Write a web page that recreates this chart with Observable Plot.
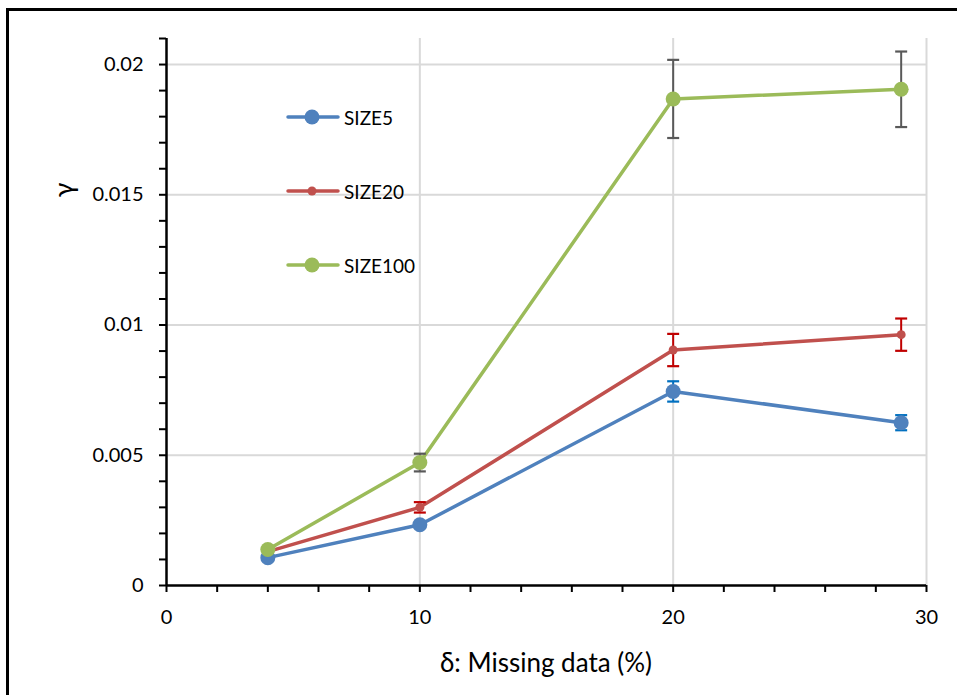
<!DOCTYPE html>
<html>
<head>
<meta charset="utf-8">
<script src="https://cdn.jsdelivr.net/npm/d3@7"></script>
<script src="https://cdn.jsdelivr.net/npm/@observablehq/plot@0.6"></script>
<style>
  html, body { margin: 0; padding: 0; background: #fff; overflow: hidden; }
  #wrap { position: relative; width: 957px; height: 695px; font-family: Lato, "Open Sans", sans-serif; }
  #chart > svg { position: absolute; left: 0; top: 0; }
  #border { position: absolute; left: 6px; top: 8px; width: 1000px; height: 1000px; border-top: 3px solid #000; border-left: 3px solid #000; box-sizing: border-box; pointer-events: none; }
  .lbl { position: absolute; color: #000; white-space: nowrap; }
  #xlabel { left: 546px; top: 662px; transform: translate(-50%, -50%); font-size: 26px; }
  #ylabel { left: 62px; top: 190px; transform: translate(-50%, -50%) rotate(-90deg); font-size: 27px; }
  .leg { position: absolute; left: 286px; height: 20px; display: flex; align-items: center; font-size: 19px; transform: translateY(-50%); color: #000; }
  .leg svg { display: block; margin-right: 4px; }
</style>
</head>
<body>
<div id="wrap">
  <div id="chart"></div>
  <div id="border"></div>
  <div class="lbl" id="xlabel"></div>
  <div class="lbl" id="ylabel"></div>
  <div id="legend"></div>
</div>
<script>
// ---- data ----
const xValues = [4, 10, 20, 29];
const seriesNames = ["SIZE5", "SIZE20", "SIZE100"];
const size5 = [0.00107, 0.00233, 0.00745, 0.00625];
const size5Err = [0, 0, 0.00039, 0.00029];
const size20 = [0.0013, 0.0030, 0.00904, 0.00963];
const size20Err = [0, 0.0002, 0.00062, 0.00062];
const size100 = [0.00138, 0.00472, 0.01868, 0.01905];
const size100Err = [0, 0.00034, 0.0015, 0.00145];
const xTicks = [0, 2, 4, 6, 8, 10, 12, 14, 16, 18, 20, 22, 24, 26, 28, 30];
const xTickLabels = ["0", "", "", "", "", "10", "", "", "", "", "20", "", "", "", "", "30"];
const yTicks = [0, 0.001, 0.002, 0.003, 0.004, 0.005, 0.006, 0.007, 0.008, 0.009, 0.01,
                0.011, 0.012, 0.013, 0.014, 0.015, 0.016, 0.017, 0.018, 0.019, 0.02, 0.021];
const yTickLabels = ["0", "", "", "", "", "0.005", "", "", "", "", "0.01",
                     "", "", "", "", "0.015", "", "", "", "", "0.02", ""];
const xGrid = [10, 20, 30];
const yGrid = [0.005, 0.01, 0.015, 0.02];
const xTitle = "δ: Missing data (%)";
const yTitle = "γ";

// ---- styles ----
const styles = {
  SIZE5:   {line: "#4F81BD", err: "#0070C0", r: 7.5},
  SIZE20:  {line: "#C0504D", err: "#C00000", r: 4.5},
  SIZE100: {line: "#9BBB59", err: "#595959", r: 7.5}
};

const values = {SIZE5: size5, SIZE20: size20, SIZE100: size100};
const errs = {SIZE5: size5Err, SIZE20: size20Err, SIZE100: size100Err};
const rows = {};
for (const s of seriesNames) {
  rows[s] = xValues.map((x, i) => ({series: s, x, y: values[s][i], e: errs[s][i]}));
}

const capSymbol = {
  draw(context, size) {
    const w = Math.sqrt(size / Math.PI);
    context.moveTo(-w, 0);
    context.lineTo(w, 0);
  }
};

const marks = [
  Plot.ruleY(yGrid, {stroke: "#D9D9D9", strokeWidth: 2}),
  Plot.ruleX(xGrid, {stroke: "#D9D9D9", strokeWidth: 2}),
  Plot.axisX({ticks: xTicks, tickFormat: (d) => xTickLabels[xTicks.indexOf(d)], tickSize: 7, tickPadding: 17, strokeWidth: 2, stroke: "#000", fill: "#000", label: null}),
  Plot.axisY({ticks: yTicks, tickFormat: (d) => yTickLabels[yTicks.indexOf(d)], tickSize: 7, tickPadding: 16, strokeWidth: 2, stroke: "#000", fill: "#000", label: null}),
  Plot.ruleY([0], {stroke: "#000", strokeWidth: 2.5}),
  Plot.ruleX([0], {stroke: "#000", strokeWidth: 2.5})
];

for (const s of seriesNames) {
  const st = styles[s];
  const data = rows[s];
  const withErr = data.filter(d => d.e > 0);
  marks.push(
    Plot.line(data, {x: "x", y: "y", stroke: st.line, strokeWidth: 3.5, strokeLinejoin: "round"}),
    Plot.ruleX(withErr, {x: "x", y1: d => d.y - d.e, y2: d => d.y + d.e, stroke: st.err, strokeWidth: 2}),
    Plot.dot(withErr, {x: "x", y: d => d.y + d.e, symbol: capSymbol, r: 6, stroke: st.err, strokeWidth: 2.2, fill: "none"}),
    Plot.dot(withErr, {x: "x", y: d => d.y - d.e, symbol: capSymbol, r: 6, stroke: st.err, strokeWidth: 2.2, fill: "none"}),
    Plot.dot(data, {x: "x", y: "y", r: st.r, fill: st.line, stroke: "none"})
  );
}

const chart = Plot.plot({
  width: 957,
  height: 695,
  marginLeft: 166,
  marginRight: 31,
  marginTop: 38,
  marginBottom: 110,
  x: {domain: [0, 30]},
  y: {domain: [0, 0.021]},
  style: {fontFamily: "Lato, 'Open Sans', sans-serif", fontSize: "20px", color: "#000", background: "transparent", overflow: "visible"},
  marks
});
document.getElementById("chart").appendChild(chart);

document.getElementById("xlabel").textContent = xTitle;
document.getElementById("ylabel").textContent = yTitle;

// legend
const legendY = [117, 191, 265];
const legend = document.getElementById("legend");
seriesNames.forEach((s, i) => {
  const st = styles[s];
  const div = document.createElement("div");
  div.className = "leg";
  div.style.top = legendY[i] + "px";
  div.innerHTML = `<svg width="54" height="20"><line x1="2" y1="10" x2="52" y2="10" stroke="${st.line}" stroke-width="3.5" stroke-linecap="round"/><circle cx="26" cy="10" r="${st.r}" fill="${st.line}"/></svg><span>${s}</span>`;
  legend.appendChild(div);
});
</script>
</body>
</html>
